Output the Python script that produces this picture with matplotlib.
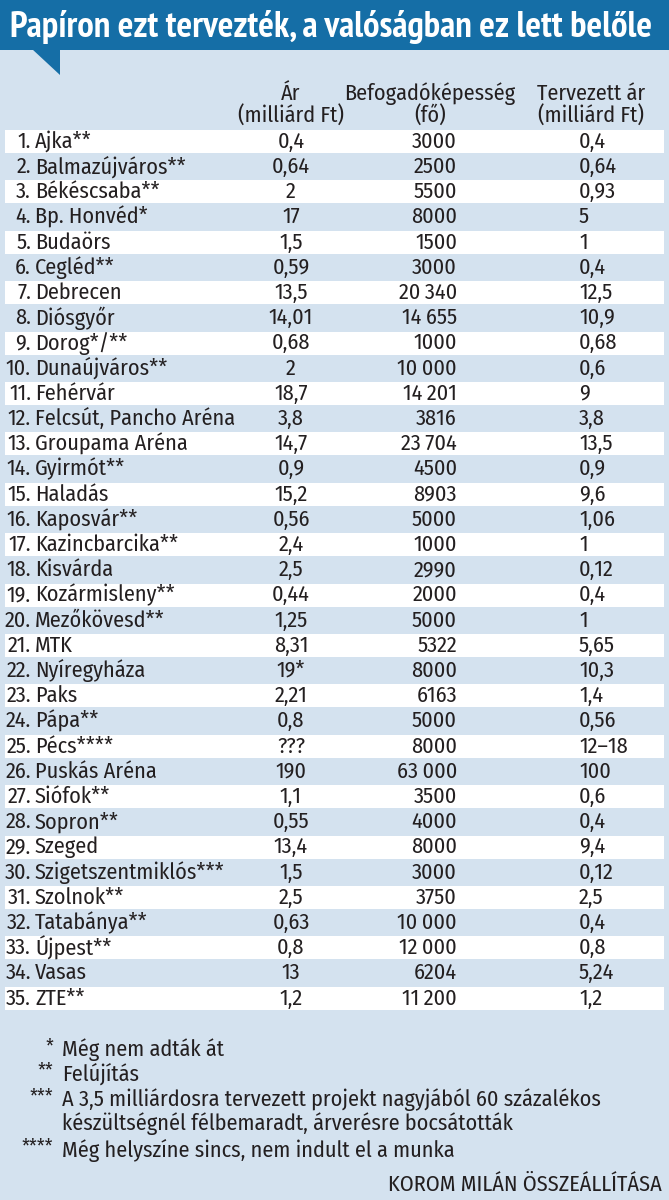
import matplotlib
matplotlib.use("Agg")
import matplotlib.pyplot as plt
from matplotlib.patches import Rectangle, Polygon

plt.rcParams['font.family'] = ['Fira Sans Condensed', 'DejaVu Sans']

# Table data
nums = list(range(1, 36))
names = ["Ajka**", "Balmazújváros**", "Békéscsaba**", "Bp. Honvéd*", "Budaörs",
         "Cegléd**", "Debrecen", "Diósgyőr", "Dorog*/**", "Dunaújváros**",
         "Fehérvár", "Felcsút, Pancho Aréna", "Groupama Aréna", "Gyirmót**", "Haladás",
         "Kaposvár**", "Kazincbarcika**", "Kisvárda", "Kozármisleny**", "Mezőkövesd**",
         "MTK", "Nyíregyháza", "Paks", "Pápa**", "Pécs****",
         "Puskás Aréna", "Siófok**", "Sopron**", "Szeged", "Szigetszentmiklós***",
         "Szolnok**", "Tatabánya**", "Újpest**", "Vasas", "ZTE**"]
price = ["0,4", "0,64", "2", "17", "1,5", "0,59", "13,5", "14,01", "0,68", "2",
         "18,7", "3,8", "14,7", "0,9", "15,2", "0,56", "2,4", "2,5", "0,44", "1,25",
         "8,31", "19*", "2,21", "0,8", "???", "190", "1,1", "0,55", "13,4", "1,5",
         "2,5", "0,63", "0,8", "13", "1,2"]
capacity = [3000, 2500, 5500, 8000, 1500, 3000, 20340, 14655, 1000, 10000,
            14201, 3816, 23704, 4500, 8903, 5000, 1000, 2990, 2000, 5000,
            5322, 8000, 6163, 5000, 8000, 63000, 3500, 4000, 8000, 3000,
            3750, 10000, 12000, 6204, 11200]
planned = ["0,4", "0,64", "0,93", "5", "1", "0,4", "12,5", "10,9", "0,68", "0,6",
           "9", "3,8", "13,5", "0,9", "9,6", "1,06", "1", "0,12", "0,4", "1",
           "5,65", "10,3", "1,4", "0,56", "12–18", "100", "0,6", "0,4", "9,4", "0,12",
           "2,5", "0,4", "0,8", "5,24", "1,2"]

title = "Papíron ezt tervezték, a valóságban ez lett belőle"
headers = [("Ár", "(milliárd Ft)"), ("Befogadóképesség", "(fő)"), ("Tervezett ár", "(milliárd Ft)")]
note_marks = ["*", "**", "***", "", "****"]
note_texts = ["Még nem adták át", "Felújítás",
              "A 3,5 milliárdosra tervezett projekt nagyjából 60 százalékos",
              "készültségnél félbemaradt, árverésre bocsátották",
              "Még helyszíne sincs, nem indult el a munka"]
credit = "KOROM MILÁN ÖSSZEÁLLÍTÁSA"

BG = "#d4e2ef"
BLUE = "#156ea6"
TXT = "#231f20"
FS = 16

def fmt_cap(v):
    if v >= 10000:
        return f"{v:,}".replace(",", "\u2009")
    return str(v)

fig = plt.figure(figsize=(6.69, 12), dpi=100, facecolor=BG)
ax = fig.add_axes([0, 0, 1, 1])
ax.set_xlim(0, 669)
ax.set_ylim(1200, 0)
ax.axis("off")

# title bar with tab
ax.add_patch(Rectangle((0, 0), 669, 50, color=BLUE, lw=0))
ax.add_patch(Polygon([(32, 49), (60, 49), (60, 75)], closed=True, color=BLUE, lw=0))
ax.text(10, 27, title, color="white", fontsize=26.5, fontweight="bold",
        family=['PT Sans Narrow', 'DejaVu Sans'], va="center", ha="left")

# column headers
col_x = [291, 430, 591]
for cx, (h1, h2) in zip(col_x, headers):
    ax.text(cx, 94, h1, ha="center", va="center", fontsize=FS, color=TXT)
    ax.text(cx, 116, h2, ha="center", va="center", fontsize=FS, color=TXT)

# rows
y0 = 141.5
dy = 25.2
for i in range(len(names)):
    y = y0 + i * dy
    if i % 2 == 0:
        ax.add_patch(Rectangle((5, y - 11.5), 659, 23, color="white", lw=0))
    ax.text(31, y, f"{nums[i]}.", ha="right", va="center", fontsize=FS, color=TXT)
    ax.text(35, y, names[i], ha="left", va="center", fontsize=FS, color=TXT)
    ax.text(291, y, price[i], ha="center", va="center", fontsize=FS, color=TXT)
    ax.text(457, y, fmt_cap(capacity[i]), ha="right", va="center", fontsize=FS, color=TXT)
    ax.text(579, y, planned[i], ha="left", va="center", fontsize=FS, color=TXT)

# footnotes
note_y = [1050, 1074, 1100, 1124, 1150]
for m, t, y in zip(note_marks, note_texts, note_y):
    if m:
        ax.text(53, y - 3, m, ha="right", va="center", fontsize=FS - 2, color=TXT)
    ax.text(62, y, t, ha="left", va="center", fontsize=FS, color=TXT)

ax.text(662, 1185, credit, ha="right", va="center", fontsize=FS, color=TXT)

fig.savefig("out.png", dpi=100, facecolor=BG)
